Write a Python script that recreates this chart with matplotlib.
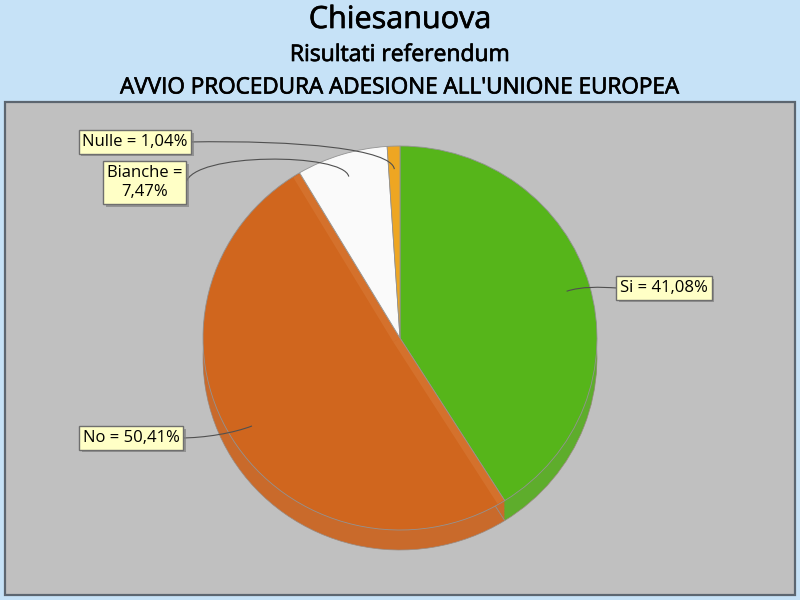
import numpy as np
import matplotlib
matplotlib.use("Agg")
import matplotlib.pyplot as plt
from matplotlib.patches import Rectangle, Polygon, PathPatch
from matplotlib.path import Path
from matplotlib import patheffects

plt.rcParams["font.family"] = ["Open Sans", "DejaVu Sans"]

# data
labels = ["Si", "No", "Bianche", "Nulle"]
values = [41.08, 50.41, 7.47, 1.04]
label_text = ["Si = 41,08%", "No = 50,41%", "Bianche =\n7,47%", "Nulle = 1,04%"]

top_colors = ["#56B51A", "#D0661E", "#FAFAFA", "#EEA622"]
wall_colors = ["#5EAD2C", "#C96A2B", "#E8E8E8", "#DD9C28"]

BG = "#C6E2F7"
PLOT_BG = "#C0C0C0"

fig = plt.figure(figsize=(8, 6), dpi=100, facecolor=BG)

# full-figure axes in pixel coordinates (y down)
bg = fig.add_axes([0, 0, 1, 1])
bg.set_xlim(0, 800)
bg.set_ylim(600, 0)
bg.axis("off")
bg.add_patch(Rectangle((5, 102), 790, 493, facecolor=PLOT_BG,
                       edgecolor="#5C6670", linewidth=1.6))

heavy = [patheffects.withStroke(linewidth=0.5, foreground="#000000")]
fig.text(0.5, 1 - 20 / 600, "Chiesanuova", ha="center", va="center",
         fontsize=22, color="#000000", path_effects=heavy)
fig.text(0.5, 1 - 55 / 600, "Risultati referendum", ha="center", va="center",
         fontsize=16.5, color="#000000", path_effects=heavy)
fig.text(0.5, 1 - 88 / 600, "AVVIO PROCEDURA ADESIONE ALL'UNIONE EUROPEA",
         ha="center", va="center", fontsize=16.2, color="#000000",
         path_effects=heavy)

# pie axes: top face spans x 203..597, y 146..530 px, wall down to 550
depth = 20 / 192
pax = fig.add_axes([203 / 800, 50 / 600, 394 / 800, 404 / 600])
pax.patch.set_visible(False)

# side wall: stacked copies shifted down
for k in np.linspace(depth, 0.005, 14):
    pax.pie(values, colors=wall_colors, startangle=90, counterclock=False,
            center=(0, -k), radius=1,
            wedgeprops=dict(linewidth=0, antialiased=True))
pax.pie(values, colors=["none"] * 4, startangle=90, counterclock=False,
        center=(0, -depth), radius=1,
        wedgeprops=dict(linewidth=0.5, edgecolor="#9A8A80", fill=False))

wedges, _ = pax.pie(values, colors=top_colors, startangle=90,
                    counterclock=False, center=(0, 0), radius=1,
                    wedgeprops=dict(linewidth=0.6, edgecolor="#939393"))

# lighter strips along the radial edges of the "No" wedge
no = wedges[1]
for ang, side in [(no.theta1, 1), (no.theta2, -1)]:
    a = np.deg2rad(ang)
    d = np.array([np.cos(a), np.sin(a)])
    n = np.array([-d[1], d[0]]) * side
    w = 0.04
    p0 = np.array([0, 0])
    p1 = d * 0.995
    pax.add_patch(Polygon([p0, p1, p1 + n * w, p0 + n * w], closed=True,
                          facecolor="#E49A60", alpha=0.22, edgecolor="none"))

pax.set_xlim(-1, 1)
pax.set_ylim(-1 - depth, 1)
pax.set_aspect("auto")
pax.axis("off")

# overlay for leader lines and callouts (pixel coords, y down)
ov = fig.add_axes([0, 0, 1, 1])
ov.set_xlim(0, 800)
ov.set_ylim(600, 0)
ov.axis("off")
ov.patch.set_visible(False)

to_px = pax.transData + ov.transData.inverted()

box_pos = [(664, 288), (131, 438), (144.5, 182.5), (135, 142)]
line_start = [(617, 288), (180, 438), (186, 183), (188, 142)]
# cubic control points relative to start (c1) and end (c2)
ctrl = [((-17, -1), (15, -5)),
        ((25, 0), (-18, 7)),
        ((6, -31), (-5, -24)),
        ((112, -2), (-3, -20))]

for w, txt, pos, st, (c1, c2) in zip(wedges, label_text, box_pos,
                                     line_start, ctrl):
    mid = np.deg2rad((w.theta1 + w.theta2) / 2)
    end = to_px.transform((0.88 * np.cos(mid), 0.88 * np.sin(mid)))
    verts = [st, (st[0] + c1[0], st[1] + c1[1]),
             (end[0] + c2[0], end[1] + c2[1]), tuple(end)]
    path = Path(verts, [Path.MOVETO, Path.CURVE4, Path.CURVE4, Path.CURVE4])
    ov.add_patch(PathPatch(path, facecolor="none", edgecolor="#505050",
                           linewidth=0.8))
    t = ov.text(pos[0], pos[1], txt, ha="center", va="center", fontsize=12,
                color="#000000", linespacing=1.3,
                bbox=dict(boxstyle="square,pad=0.22", facecolor="#FFFFC6",
                          edgecolor="#6E6E6E", linewidth=1))
    t.get_bbox_patch().set_path_effects(
        [patheffects.SimplePatchShadow(offset=(2, -2), shadow_rgbFace="#808080",
                                       alpha=0.7),
         patheffects.Normal()])

fig.savefig("out.png", dpi=100, facecolor=BG)
